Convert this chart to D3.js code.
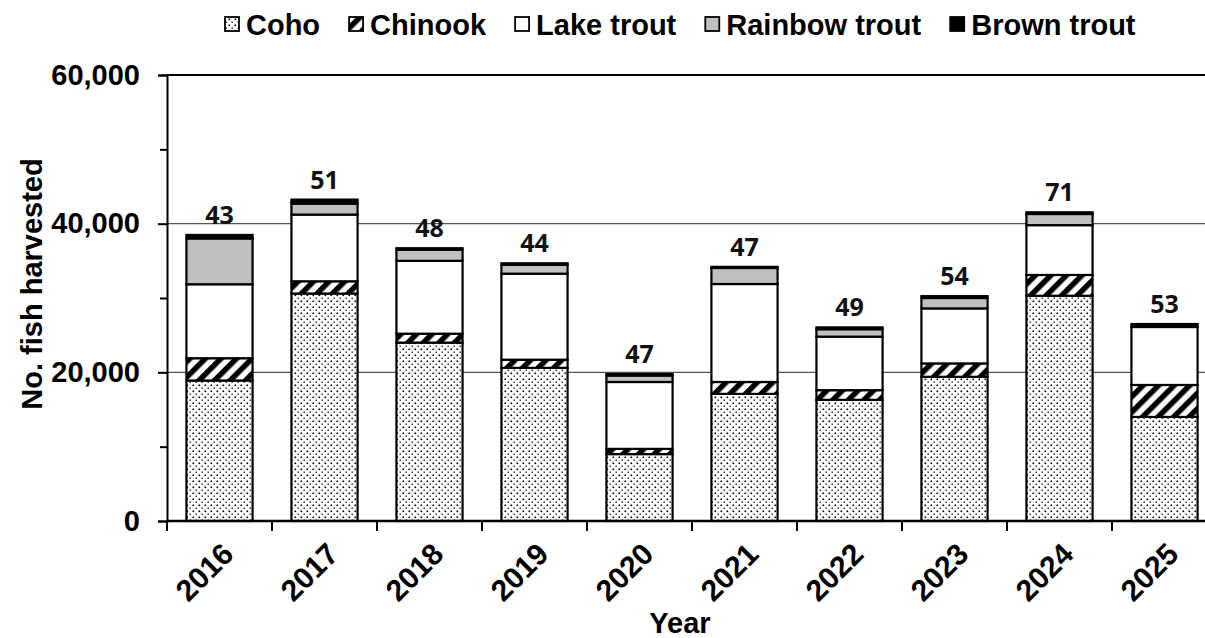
<!DOCTYPE html>
<html>
<head>
<meta charset="utf-8">
<script src="https://cdn.jsdelivr.net/npm/d3@7"></script>
<style>
  html, body { margin: 0; padding: 0; background: #fff; }
  svg { display: block; }
  text { font-family: "Liberation Sans", Arial, sans-serif; font-weight: bold; }
</style>
</head>
<body>
<svg id="chart" width="1205" height="638"></svg>
<script>
// ---- data ----
const years = ["2016","2017","2018","2019","2020","2021","2022","2023","2024","2025"];
const coho    = [18900, 30600, 24000, 20600, 9000, 17100, 16300, 19400, 30300, 14000];
const chinook = [3000, 1650, 1200, 1100, 700, 1600, 1300, 1800, 2800, 4300];
const lakeTrout = [9950, 8970, 9800, 11570, 9000, 13180, 7200, 7400, 6700, 7800];
const rainbowTrout = [6160, 1480, 1500, 1200, 870, 2160, 1000, 1400, 1500, 0];
const brownTrout = [470, 540, 200, 200, 200, 150, 250, 250, 230, 400];
const barLabels = ["43","51","48","44","47","47","49","54","71","53"];
const seriesNames = ["Coho","Chinook","Lake trout","Rainbow trout","Brown trout"];
const yTicks = [0, 20000, 40000, 60000];
const yMinorTicks = [10000, 30000, 50000];
const gridValues = [20000, 40000];

(function () {
const svg = d3.select("#chart");
const W = 1205, H = 638;
const mLeft = 167, mRight = 1217, mTop = 75, mBottom = 521;

// patterns
const defs = svg.append("defs");
const pc = defs.append("pattern").attr("id","p-coho").attr("patternUnits","userSpaceOnUse")
  .attr("width",6).attr("height",6);
pc.append("rect").attr("width",6).attr("height",6).attr("fill","#fff");
pc.append("rect").attr("x",0.5).attr("y",0.5).attr("width",1.6).attr("height",1.6).attr("fill","#000");
pc.append("rect").attr("x",3.5).attr("y",3.5).attr("width",1.4).attr("height",1.4).attr("fill","#222");
const ps = defs.append("pattern").attr("id","p-chinook").attr("patternUnits","userSpaceOnUse")
  .attr("width",11).attr("height",11).attr("patternTransform","rotate(45)");
ps.append("rect").attr("width",11).attr("height",11).attr("fill","#fff");
ps.append("rect").attr("width",5.5).attr("height",11).attr("fill","#000");

const fills = ["url(#p-coho)","url(#p-chinook)","#ffffff","#c0c0c0","#000000"];

const seriesArrays = [coho, chinook, lakeTrout, rainbowTrout, brownTrout];
const table = years.map((yr,i) => {
  const o = {year: yr};
  seriesNames.forEach((s,k) => o[s] = seriesArrays[k][i]);
  return o;
});
const stacked = d3.stack().keys(seriesNames)(table);

const x = d3.scaleBand().domain(years).range([mLeft, mRight]).paddingInner(0.37).paddingOuter(0.185);
const y = d3.scaleLinear().domain([0, 60000]).range([mBottom, mTop]);

// gridlines
svg.append("g").selectAll("line").data(gridValues).join("line")
  .attr("x1", mLeft).attr("x2", W).attr("y1", d => y(d)).attr("y2", d => y(d))
  .attr("stroke","#555").attr("stroke-width",1.2);
// top line
svg.append("line").attr("x1", mLeft).attr("x2", W).attr("y1", y(60000)).attr("y2", y(60000))
  .attr("stroke","#000").attr("stroke-width",2);

// bars
const g = svg.append("g");
stacked.forEach((layer, k) => {
  g.append("g").selectAll("rect").data(layer.filter(d => d[1] - d[0] > 0)).join("rect")
    .attr("x", d => x(d.data.year))
    .attr("width", x.bandwidth())
    .attr("y", d => y(d[1]))
    .attr("height", d => y(d[0]) - y(d[1]))
    .attr("fill", fills[k])
    .attr("stroke","#000").attr("stroke-width",2.2);
});

// bar labels
const totals = years.map((yr,i) => seriesArrays.reduce((s,a) => s + a[i], 0));
svg.append("g").selectAll("text").data(years).join("text")
  .attr("x", d => x(d) + x.bandwidth()/2)
  .attr("y", (d,i) => y(totals[i]) - 11)
  .attr("text-anchor","middle")
  .style("font-family","'Open Sans', sans-serif").style("font-weight","700")
  .style("font-size","25px").attr("fill","#111")
  .text((d,i) => barLabels[i]);

// y axis
const yAxis = svg.append("g").attr("transform",`translate(${mLeft},0)`)
  .call(d3.axisLeft(y).tickValues(yTicks).tickSize(9).tickPadding(18).tickFormat(d3.format(",")));
yAxis.select(".domain").attr("stroke","#000").attr("stroke-width",2);
yAxis.selectAll(".tick line").attr("stroke","#000").attr("stroke-width",2);
yAxis.selectAll(".tick text").style("font-size","29px").attr("fill","#000")
  .style("font-family","'Liberation Sans', Arial, sans-serif").style("font-weight","bold");
const yMinor = svg.append("g").attr("transform",`translate(${mLeft},0)`)
  .call(d3.axisLeft(y).tickValues(yMinorTicks).tickSize(7).tickFormat(""));
yMinor.select(".domain").remove();
yMinor.selectAll(".tick line").attr("stroke","#000").attr("stroke-width",2);

// x axis
svg.append("line").attr("x1", mLeft).attr("x2", W).attr("y1", mBottom).attr("y2", mBottom)
  .attr("stroke","#000").attr("stroke-width",2.5);
const boundaries = years.map(d => x(d) + x.bandwidth()/2 - x.step()/2);
svg.append("g").selectAll("line").data(boundaries).join("line")
  .attr("x1", d => d).attr("x2", d => d).attr("y1", mBottom).attr("y2", mBottom + 10)
  .attr("stroke","#000").attr("stroke-width",2);
svg.append("g").selectAll("text").data(years).join("text")
  .attr("transform", d => `translate(${x(d) + x.bandwidth()/2 + 1},${mBottom + 20}) rotate(-45)`)
  .attr("text-anchor","end").attr("dy","0.7em")
  .style("font-size","30px").attr("fill","#000")
  .text(d => d);

// axis titles
svg.append("text").attr("x", 680).attr("y", 633).attr("text-anchor","middle")
  .style("font-size","29px").attr("fill","#000").text("Year");
svg.append("text").attr("transform","translate(42,284) rotate(-90)").attr("text-anchor","middle")
  .style("font-size","29px").attr("fill","#000").text("No. fish harvested");

// legend
const legend = svg.append("g");
let lx = 225;
seriesNames.forEach((s,k) => {
  const item = legend.append("g");
  item.append("rect").attr("x", lx).attr("y", 17).attr("width", 14).attr("height", 14)
    .attr("fill", fills[k]).attr("stroke","#000").attr("stroke-width",1.8);
  const t = item.append("text").attr("x", lx + 21).attr("y", 35)
    .style("font-size","29px").attr("fill","#000").text(s);
  lx = lx + 21 + t.node().getComputedTextLength() + 29;
});
})();
</script>
</body>
</html>
